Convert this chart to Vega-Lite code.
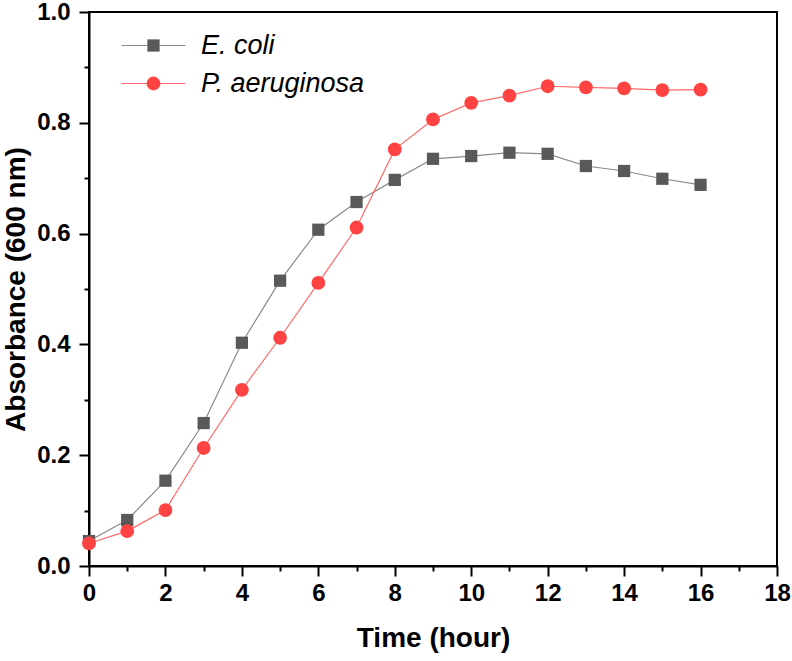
{
  "$schema": "https://vega.github.io/schema/vega-lite/v6.json",
  "width": 688,
  "height": 554,
  "autosize": "none",
  "padding": {"left": 89, "top": 12, "right": 15, "bottom": 95},
  "background": "white",
  "config": {
    "view": {"stroke": "black", "strokeWidth": 2},
    "axis": {
      "grid": false,
      "domainColor": "black",
      "domainWidth": 2,
      "tickColor": "black",
      "tickWidth": 2,
      "labelFont": "Liberation Sans",
      "labelFontWeight": "bold",
      "labelFontSize": 24,
      "labelColor": "black",
      "titleFont": "Liberation Sans",
      "titleFontWeight": "bold",
      "titleFontSize": 28,
      "titleColor": "black"
    }
  },
  "data": {
    "values": [
      {"t": 0, "od": 0.045, "strain": "E. coli"},
      {"t": 1, "od": 0.083, "strain": "E. coli"},
      {"t": 2, "od": 0.154, "strain": "E. coli"},
      {"t": 3, "od": 0.258, "strain": "E. coli"},
      {"t": 4, "od": 0.403, "strain": "E. coli"},
      {"t": 5, "od": 0.515, "strain": "E. coli"},
      {"t": 6, "od": 0.607, "strain": "E. coli"},
      {"t": 7, "od": 0.657, "strain": "E. coli"},
      {"t": 8, "od": 0.697, "strain": "E. coli"},
      {"t": 9, "od": 0.735, "strain": "E. coli"},
      {"t": 10, "od": 0.740, "strain": "E. coli"},
      {"t": 11, "od": 0.746, "strain": "E. coli"},
      {"t": 12, "od": 0.744, "strain": "E. coli"},
      {"t": 13, "od": 0.722, "strain": "E. coli"},
      {"t": 14, "od": 0.713, "strain": "E. coli"},
      {"t": 15, "od": 0.699, "strain": "E. coli"},
      {"t": 16, "od": 0.688, "strain": "E. coli"},
      {"t": 0, "od": 0.041, "strain": "P. aeruginosa"},
      {"t": 1, "od": 0.063, "strain": "P. aeruginosa"},
      {"t": 2, "od": 0.101, "strain": "P. aeruginosa"},
      {"t": 3, "od": 0.213, "strain": "P. aeruginosa"},
      {"t": 4, "od": 0.318, "strain": "P. aeruginosa"},
      {"t": 5, "od": 0.412, "strain": "P. aeruginosa"},
      {"t": 6, "od": 0.511, "strain": "P. aeruginosa"},
      {"t": 7, "od": 0.611, "strain": "P. aeruginosa"},
      {"t": 8, "od": 0.752, "strain": "P. aeruginosa"},
      {"t": 9, "od": 0.806, "strain": "P. aeruginosa"},
      {"t": 10, "od": 0.836, "strain": "P. aeruginosa"},
      {"t": 11, "od": 0.849, "strain": "P. aeruginosa"},
      {"t": 12, "od": 0.866, "strain": "P. aeruginosa"},
      {"t": 13, "od": 0.864, "strain": "P. aeruginosa"},
      {"t": 14, "od": 0.862, "strain": "P. aeruginosa"},
      {"t": 15, "od": 0.859, "strain": "P. aeruginosa"},
      {"t": 16, "od": 0.860, "strain": "P. aeruginosa"}
    ]
  },
  "layer": [
    {
      "mark": {"type": "line", "strokeWidth": 1.2},
      "encoding": {
        "x": {
          "field": "t", "type": "quantitative",
          "scale": {"domain": [0, 18], "nice": false, "zero": false},
          "axis": {"orient": "bottom", "values": [0, 2, 4, 6, 8, 10, 12, 14, 16, 18], "tickSize": 10, "labelPadding": 5, "title": "Time (hour)", "titlePadding": 19, "labelFlush": false}
        },
        "y": {
          "field": "od", "type": "quantitative",
          "scale": {"domain": [0, 1], "nice": false, "zero": false},
          "axis": {"orient": "left", "values": [0, 0.2, 0.4, 0.6, 0.8, 1.0], "format": ".1f", "tickSize": 10, "labelPadding": 9, "title": "Absorbance (600 nm)", "titlePadding": 6, "labelFlush": false}
        },
        "color": {
          "field": "strain", "type": "nominal",
          "scale": {"domain": ["E. coli", "P. aeruginosa"], "range": ["#8a8a8a", "#ff6a6a"]},
          "legend": {
            "orient": "none",
            "legendX": 51,
            "legendY": 20,
            "title": null,
            "symbolType": "M-5.33,0H5.33",
            "symbolSize": 144,
            "symbolStrokeWidth": 1.2,
            "labelFont": "Liberation Sans",
            "labelFontSize": 27,
            "labelOffset": 34,
            "labelExpr": "''",
            "rowPadding": 10
          }
        }
      }
    },
    {
      "mark": {"type": "point", "filled": true, "opacity": 1},
      "encoding": {
        "x": {
          "field": "t", "type": "quantitative",
          "axis": {"orient": "bottom", "values": [1, 3, 5, 7, 9, 11, 13, 15, 17], "tickSize": 5, "labels": false, "domain": false, "title": null}
        },
        "y": {
          "field": "od", "type": "quantitative",
          "axis": {"orient": "left", "values": [0.1, 0.3, 0.5, 0.7, 0.9], "tickSize": 5, "labels": false, "domain": false, "title": null}
        },
        "shape": {
          "field": "strain", "type": "nominal",
          "scale": {"domain": ["E. coli", "P. aeruginosa"], "range": ["square", "circle"]},
          "legend": {
            "orient": "none",
            "legendX": 51,
            "legendY": 20,
            "title": null,
            "labelFont": "Liberation Sans",
            "labelFontStyle": "italic",
            "labelFontSize": 27,
            "labelColor": "black",
            "labelLimit": 400,
            "symbolSize": 160,
            "labelOffset": 34,
            "rowPadding": 10,
            "symbolStrokeWidth": 0
          }
        },
        "size": {
          "field": "strain", "type": "nominal",
          "scale": {"domain": ["E. coli", "P. aeruginosa"], "range": [150, 190]},
          "legend": null
        },
        "color": {
          "field": "strain", "type": "nominal",
          "scale": {"domain": ["E. coli", "P. aeruginosa"], "range": ["#595959", "#ff4242"]},
          "legend": {
            "orient": "none",
            "legendX": 51,
            "legendY": 20,
            "title": null,
            "labelFont": "Liberation Sans",
            "labelFontStyle": "italic",
            "labelFontSize": 27,
            "labelColor": "black",
            "labelLimit": 400,
            "symbolSize": 160,
            "labelOffset": 34,
            "rowPadding": 10,
            "symbolStrokeWidth": 0
          }
        }
      }
    }
  ],
  "resolve": {
    "axis": {"x": "independent", "y": "independent"},
    "scale": {"color": "independent", "shape": "independent", "size": "independent"},
    "legend": {"color": "independent", "shape": "independent", "size": "independent"}
  }
}
